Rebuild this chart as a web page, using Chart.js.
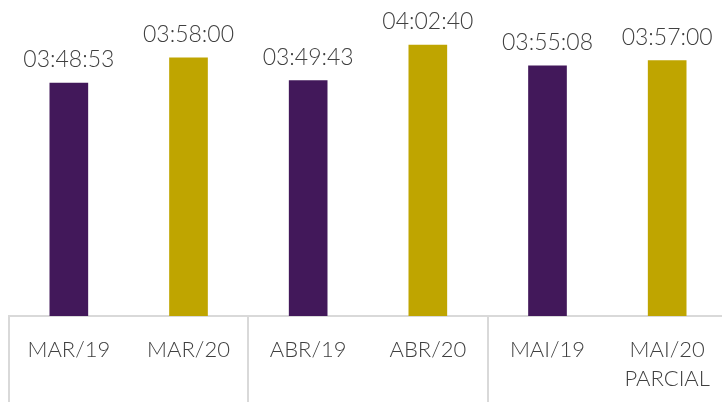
<!DOCTYPE html>
<html>
<head>
<meta charset="utf-8">
<script src="https://cdn.jsdelivr.net/npm/chart.js@4/dist/chart.umd.min.js"></script>
<style>
  html, body { margin: 0; padding: 0; background: #fff; overflow: hidden; }
  #wrap { width: 722px; height: 402px; overflow: hidden; }
</style>
</head>
<body>
<div id="wrap"><canvas id="chart" width="730" height="402"></canvas></div>
<script>
// months compared, 2019 vs 2020
const categories = ['MAR/19', 'MAR/20', 'ABR/19', 'ABR/20', 'MAI/19', ['MAI/20', 'PARCIAL']];
const durations = ['03:48:53', '03:58:00', '03:49:43', '04:02:40', '03:55:08', '03:57:00'];
const barColors = ['#42185a', '#bfa500', '#42185a', '#bfa500', '#42185a', '#bfa500'];

const toSeconds = (t) => {
    const [h, m, s] = t.split(':').map(Number);
    return h * 3600 + m * 60 + s;
};

const textColor = '#404040';
const fontFamily = 'Lato, "Open Sans", sans-serif';

// prints the duration above each bar
const valueLabels = {
    id: 'valueLabels',
    afterDatasetsDraw(chart) {
        const ctx = chart.ctx;
        const meta = chart.getDatasetMeta(0);
        ctx.save();
        ctx.font = '300 23px ' + fontFamily;
        ctx.fillStyle = textColor;
        ctx.textAlign = 'center';
        ctx.textBaseline = 'alphabetic';
        meta.data.forEach((bar, i) => {
            ctx.fillText(durations[i], bar.x, bar.y - 16);
        });
        ctx.restore();
    }
};

new Chart(document.getElementById('chart'), {
    type: 'bar',
    data: {
        labels: categories,
        datasets: [{
            data: durations.map(toSeconds),
            backgroundColor: barColors,
            barThickness: 38
        }]
    },
    options: {
        responsive: false,
        animation: false,
        layout: { padding: { left: 9, right: 3, top: 0, bottom: 0 } },
        plugins: {
            legend: { display: false },
            tooltip: { enabled: false }
        },
        scales: {
            y: {
                display: false,
                min: 8660,
                max: 15540
            },
            x: {
                offset: true,
                border: { color: '#d9d9d9', width: 2 },
                grid: {
                    offset: true,
                    drawOnChartArea: false,
                    drawTicks: true,
                    tickLength: 86,
                    lineWidth: 2,
                    color: (c) => (c.index % 2 === 0 ? '#d9d9d9' : 'rgba(0,0,0,0)')
                },
                ticks: {
                    color: textColor,
                    padding: -66,
                    maxRotation: 0,
                    autoSkip: false,
                    font: { family: fontFamily, size: 22, weight: '300', lineHeight: 1.3 }
                },
                afterFit: (scale) => { scale.height = 86; }
            }
        }
    },
    plugins: [valueLabels]
});
</script>
</body>
</html>
